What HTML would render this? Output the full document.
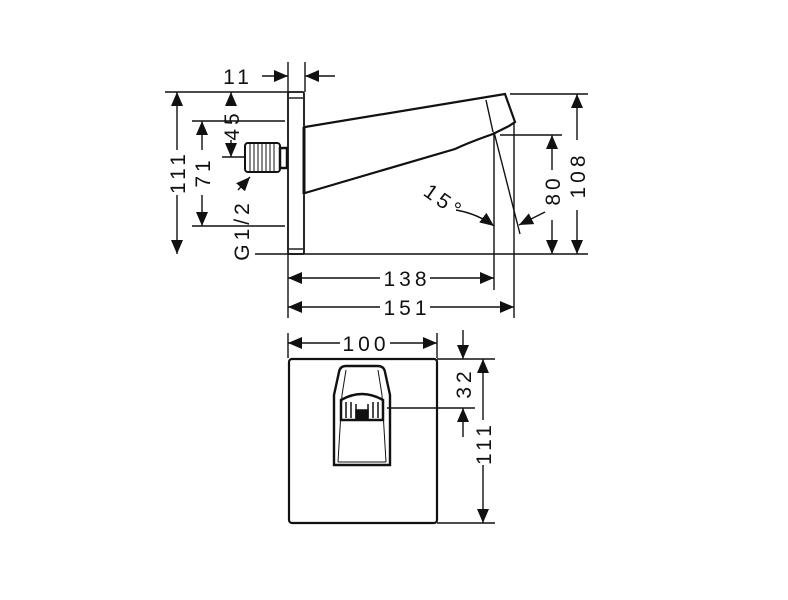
<!DOCTYPE html>
<html><head><meta charset="utf-8"><style>
html,body{margin:0;padding:0;background:#fff}
svg{display:block}
text{font-family:"Liberation Sans",sans-serif;font-size:21px;fill:#111;letter-spacing:4px}
</style></head><body>
<svg width="788" height="600" viewBox="0 0 788 600" xmlns="http://www.w3.org/2000/svg">
<defs>
<marker id="a" viewBox="0 0 14 12" refX="14" refY="6" markerWidth="14" markerHeight="12" markerUnits="userSpaceOnUse" orient="auto-start-reverse"><path d="M0,0L14,6L0,12z" fill="#111"/></marker>
</defs>
<g stroke="#111" stroke-width="1.4" fill="none">
<rect x="288" y="92" width="16" height="162" rx="1.5" stroke-width="1.8"/>
<line x1="289" y1="98" x2="303" y2="98"/>
<line x1="289" y1="249" x2="303" y2="249"/>
<line x1="304" y1="127" x2="304" y2="194" stroke-width="3"/>
<line x1="255" y1="254" x2="588" y2="254"/>
<path d="M305,127 L505,94 L515,122 L509,126 L493,134 Q470,142 455,149 L305,193" stroke-width="2.2"/>
<path d="M486,100 L493,132"/>
<line x1="494" y1="132" x2="520" y2="234"/>
<rect x="245" y="143" width="35" height="29" rx="3" stroke-width="2"/>
<g stroke-width="1">
<line x1="250" y1="144" x2="250" y2="171"/><line x1="254" y1="144" x2="254" y2="171"/><line x1="258" y1="144" x2="258" y2="171"/><line x1="262" y1="144" x2="262" y2="171"/><line x1="266" y1="144" x2="266" y2="171"/><line x1="270" y1="144" x2="270" y2="171"/><line x1="274" y1="144" x2="274" y2="171"/>
</g>
<rect x="280" y="148" width="7" height="20" stroke-width="2.5"/>
<line x1="165" y1="92" x2="288" y2="92"/>
<line x1="192" y1="121" x2="285" y2="121"/>
<line x1="222" y1="157" x2="245" y2="157"/>
<line x1="192" y1="226" x2="285" y2="226"/>
<line x1="177" y1="92" x2="177" y2="150" marker-start="url(#a)"/>
<line x1="177" y1="195" x2="177" y2="254" marker-end="url(#a)"/>
<line x1="202" y1="121" x2="202" y2="150" marker-start="url(#a)"/>
<line x1="202" y1="195" x2="202" y2="226" marker-end="url(#a)"/>
<line x1="231" y1="92" x2="231" y2="106" marker-start="url(#a)"/>
<line x1="231" y1="140" x2="231" y2="157" marker-end="url(#a)"/>
<line x1="238" y1="190" x2="250" y2="177" marker-end="url(#a)"/>
<line x1="288" y1="62" x2="288" y2="92"/>
<line x1="305" y1="62" x2="305" y2="92"/>
<line x1="262" y1="76" x2="288" y2="76" marker-end="url(#a)"/>
<line x1="335" y1="76" x2="305" y2="76" marker-end="url(#a)"/>
<line x1="510" y1="94" x2="588" y2="94"/>
<line x1="500" y1="135" x2="562" y2="135"/>
<line x1="577" y1="94" x2="577" y2="140" marker-start="url(#a)"/>
<line x1="577" y1="210" x2="577" y2="254" marker-end="url(#a)"/>
<line x1="552" y1="135" x2="552" y2="170" marker-start="url(#a)"/>
<line x1="552" y1="220" x2="552" y2="254" marker-end="url(#a)"/>
<line x1="545" y1="212" x2="519" y2="225" marker-end="url(#a)"/>
<path d="M456,210 Q478,214 494,226" marker-end="url(#a)"/>
<line x1="288" y1="254" x2="288" y2="318"/>
<line x1="494" y1="132" x2="494" y2="290"/>
<line x1="514" y1="122" x2="514" y2="318"/>
<line x1="288" y1="278" x2="380" y2="278" marker-start="url(#a)"/>
<line x1="430" y1="278" x2="494" y2="278" marker-end="url(#a)"/>
<line x1="288" y1="307" x2="380" y2="307" marker-start="url(#a)"/>
<line x1="430" y1="307" x2="514" y2="307" marker-end="url(#a)"/>
<rect x="289" y="359" width="148" height="164" rx="3" stroke-width="2.2"/>
<line x1="288" y1="333" x2="288" y2="358"/>
<line x1="437" y1="333" x2="437" y2="358"/>
<line x1="288" y1="343" x2="340" y2="343" marker-start="url(#a)"/>
<line x1="390" y1="343" x2="437" y2="343" marker-end="url(#a)"/>
<line x1="437" y1="359" x2="495" y2="359"/>
<line x1="437" y1="523" x2="495" y2="523"/>
<line x1="387" y1="408" x2="475" y2="408"/>
<line x1="463" y1="330" x2="463" y2="359" marker-end="url(#a)"/>
<line x1="463" y1="437" x2="463" y2="408" marker-end="url(#a)"/>
<line x1="483" y1="359" x2="483" y2="420" marker-start="url(#a)"/>
<line x1="483" y1="465" x2="483" y2="523" marker-end="url(#a)"/>
<path d="M334,465 L334,395 L339,372 Q340,366 346,366 L378,366 Q384,366 385,372 L390,395 L390,465 Z" stroke-width="2.4"/>
<path d="M338,462 L342,395 L346,370 M386,462 L382,395 L378,370" stroke-width="1"/>
<path d="M338,462 L386,462" stroke-width="1"/>
<path d="M341,420 L341,400 Q362,388 383,400 L383,420 Z" stroke-width="2.5"/>
<g stroke-width="1.5">
<line x1="346" y1="402" x2="346" y2="418"/><line x1="351" y1="402" x2="351" y2="418"/><line x1="356" y1="404" x2="356" y2="418"/><line x1="368" y1="404" x2="368" y2="418"/><line x1="373" y1="402" x2="373" y2="418"/><line x1="378" y1="402" x2="378" y2="418"/>
<rect x="356" y="410" width="12" height="10" fill="#111"/>
</g>
</g>
<text x="238" y="84" text-anchor="middle">11</text>
<text transform="translate(185,172) rotate(-90)" text-anchor="middle">111</text>
<text transform="translate(210,172) rotate(-90)" text-anchor="middle">71</text>
<text transform="translate(239,125) rotate(-90)" text-anchor="middle">45</text>
<text transform="translate(249,230) rotate(-90)" text-anchor="middle">G1/2</text>
<text transform="translate(585,175) rotate(-90)" text-anchor="middle">108</text>
<text transform="translate(560,190) rotate(-90)" text-anchor="middle">80</text>
<text transform="translate(440,207) rotate(35)" text-anchor="middle">15°</text>
<text x="407" y="286" text-anchor="middle">138</text>
<text x="407" y="315" text-anchor="middle">151</text>
<text x="366" y="351" text-anchor="middle">100</text>
<text transform="translate(471,383) rotate(-90)" text-anchor="middle">32</text>
<text transform="translate(491,443) rotate(-90)" text-anchor="middle">111</text>
</svg>
</body></html>
